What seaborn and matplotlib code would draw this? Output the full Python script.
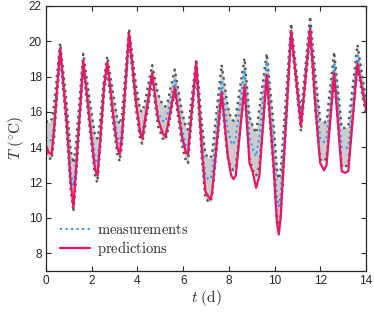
import numpy as np
import pandas as pd
import seaborn as sns
import matplotlib
matplotlib.use("Agg")
import matplotlib.pyplot as plt

# time (days) and temperatures
t = [0.00, 0.12, 0.25, 0.35, 0.62, 0.90, 1.08, 1.20, 1.30, 1.63,
     1.95, 2.15, 2.25, 2.35, 2.54, 2.68, 2.95, 3.12, 3.22, 3.32,
     3.63, 3.95, 4.12, 4.21, 4.30, 4.64, 4.90, 5.10, 5.22, 5.32,
     5.63, 5.95, 6.12, 6.21, 6.30, 6.57, 6.82, 6.97, 7.10, 7.19,
     7.26, 7.68, 7.95, 8.10, 8.20, 8.30, 8.68, 8.90, 9.04, 9.19,
     9.33, 9.65, 9.95, 10.10, 10.18, 10.26, 10.72, 11.15, 11.55, 11.80,
     11.99, 12.16, 12.27, 12.60, 12.93, 13.08, 13.22, 13.62, 14.00]
pred = [14.1, 13.7, 13.6, 15.0, 19.6, 15.5, 12.0, 10.6, 12.5, 18.9,
        15.0, 12.7, 12.4, 14.0, 17.5, 18.8, 15.7, 14.0, 13.6, 14.6,
        20.5, 16.4, 14.8, 14.5, 15.3, 18.2, 15.6, 14.8, 14.6, 15.2,
        17.4, 14.6, 13.7, 13.6, 15.0, 18.8, 13.8, 11.5, 11.2, 11.05,
        11.4, 17.15, 13.5, 12.4, 12.2, 12.4, 17.5, 13.1, 12.6, 11.7,
        12.4, 18.1, 13.0, 9.7, 9.06, 10.0, 20.6, 15.2, 20.7, 16.0,
        13.1, 12.7, 13.0, 18.2, 12.65, 12.55, 12.65, 18.76, 16.1]
meas = [14.6, 14.4, 14.4, 15.2, 19.5, 15.6, 12.6, 11.8, 13.0, 18.7,
        15.4, 13.3, 13.1, 14.3, 17.3, 18.5, 16.0, 14.6, 14.2, 15.0,
        19.9, 16.5, 15.0, 14.8, 15.4, 17.9, 15.9, 15.5, 15.45, 15.9,
        17.8, 15.0, 14.1, 14.0, 15.2, 18.6, 14.3, 12.4, 12.2, 12.2,
        12.5, 17.8, 15.0, 14.3, 14.15, 14.5, 18.4, 14.6, 13.9, 13.5,
        14.6, 18.85, 13.9, 11.2, 10.66, 11.3, 20.5, 15.55, 20.9, 16.9,
        14.5, 14.3, 14.5, 18.8, 14.0, 13.95, 14.0, 19.2, 16.2]
upper = [15.5, 15.4, 15.6, 16.4, 19.9, 16.5, 13.8, 13.1, 14.0, 19.3,
         16.3, 14.6, 14.5, 15.3, 17.9, 19.15, 16.9, 15.6, 15.3, 15.8,
         20.7, 17.4, 16.1, 16.0, 16.4, 18.65, 17.0, 16.4, 16.3, 16.6,
         18.4, 16.0, 15.1, 15.0, 16.0, 19.0, 15.3, 13.6, 13.4, 13.4,
         13.6, 18.67, 16.3, 15.6, 15.5, 15.8, 19.05, 15.75, 15.2, 14.8,
         16.2, 19.3, 15.3, 12.7, 12.2, 12.6, 21.0, 15.9, 21.4, 17.8,
         15.55, 15.4, 15.5, 19.4, 15.1, 15.1, 15.2, 19.8, 16.6]
lower = [13.7, 13.4, 13.3, 14.5, 19.3, 15.0, 11.6, 10.35, 12.0, 18.5,
         14.6, 12.3, 12.0, 13.6, 17.1, 18.4, 15.2, 13.6, 13.2, 14.1,
         20.2, 16.0, 14.4, 14.2, 14.9, 17.8, 15.2, 14.5, 14.4, 14.9,
         17.1, 14.1, 13.2, 13.1, 14.6, 18.4, 13.3, 11.1, 10.95, 10.9,
         11.2, 16.8, 13.4, 12.8, 12.7, 12.9, 17.2, 13.3, 12.7, 12.4,
         12.9, 17.8, 12.8, 9.9, 9.4, 10.0, 20.3, 14.9, 20.4, 15.8,
         13.3, 13.2, 13.4, 17.9, 12.9, 12.9, 13.0, 18.5, 15.8]

xticks = [0, 2, 4, 6, 8, 10, 12, 14]
yticks = [8, 10, 12, 14, 16, 18, 20, 22]

df = pd.DataFrame({"t": t, "pred": pred, "meas": meas, "upper": upper, "lower": lower})

sns.set_style("ticks")
plt.rcParams["font.family"] = ["Liberation Sans", "DejaVu Sans"]
plt.rcParams["mathtext.fontset"] = "cm"

fig = plt.figure(figsize=(3.74, 3.15), dpi=100)
ax = fig.add_axes([0.123, 0.140, 0.856, 0.841])

# uncertainty band
ax.fill_between(df["t"], df["lower"], df["upper"], color="#cccccc", lw=0)
sns.lineplot(data=df, x="t", y="upper", ax=ax, color="#555555", lw=1.7, ls=":")
sns.lineplot(data=df, x="t", y="lower", ax=ax, color="#555555", lw=1.7, ls=":")
sns.lineplot(data=df, x="t", y="meas", ax=ax, color="#1f9bf0", lw=1.5, ls=":")
sns.lineplot(data=df, x="t", y="pred", ax=ax, color="#ec1466", lw=1.6)

h_meas = ax.lines[-2]
h_pred = ax.lines[-1]
ax.legend([h_meas, h_pred],
          [r"$\mathrm{measurements}$", r"$\mathrm{predictions}$"],
          loc="lower left", bbox_to_anchor=(0.044, 0.047), frameon=False,
          borderpad=0, borderaxespad=0,
          fontsize=10.5, handlelength=2.05, handletextpad=0.45, labelspacing=0.14)

ax.set_xlim(0, 14)
ax.set_ylim(7, 22)
ax.set_xticks(xticks)
ax.set_yticks(yticks)
ax.tick_params(direction="in", length=3.5, width=0.8, labelsize=8.5,
               top=True, right=True, colors="#262626", pad=3)
for s in ax.spines.values():
    s.set_visible(True)
    s.set_linewidth(0.9)
    s.set_color("#262626")

ax.set_xlabel(r"$t\ (\mathrm{d})$", fontsize=11, labelpad=1)
ax.set_ylabel(r"$T\ (^{\circ}\mathrm{C})$", fontsize=11, labelpad=2)

fig.savefig("out.png", dpi=100)
